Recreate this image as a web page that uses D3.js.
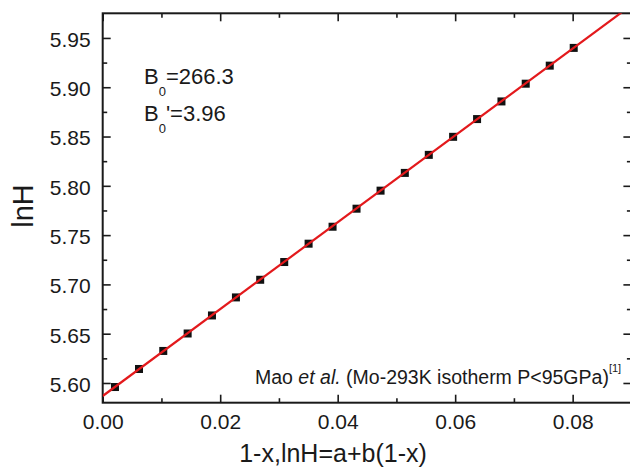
<!DOCTYPE html>
<html>
<head>
<meta charset="utf-8">
<script src="https://cdn.jsdelivr.net/npm/d3@7"></script>
<style>
  html, body { margin: 0; padding: 0; background: #fff; }
  svg { display: block; font-family: "Liberation Sans", Arial, sans-serif; }
</style>
</head>
<body>
<script>
// Mo isotherm: reduced strain (1-x) vs lnH, with linear fit lnH = a + b(1-x)
const strain = [0.00209, 0.00618, 0.01031, 0.01446, 0.01860, 0.02268, 0.02681, 0.03090, 0.03505, 0.03913,
                0.04321, 0.04730, 0.05143, 0.05551, 0.05965, 0.06373, 0.06788, 0.07201, 0.07610, 0.08018];
const lnH = [5.5959, 5.6142, 5.6325, 5.6502, 5.6685, 5.6868, 5.7047, 5.7227, 5.7413, 5.7585,
             5.7768, 5.7951, 5.8131, 5.8314, 5.8497, 5.8677, 5.8856, 5.9036, 5.9219, 5.9399];
const fitParams = [5.5868, 4.405];            // a, b
const xTicks = [0, 0.02, 0.04, 0.06, 0.08];
const xMinorTicks = [0.01, 0.03, 0.05, 0.07, 0.09];
const yTicks = [5.60, 5.65, 5.70, 5.75, 5.80, 5.85, 5.90, 5.95];
const yMinorTicks = [5.625, 5.675, 5.725, 5.775, 5.825, 5.875, 5.925];

const W = 630, H = 467;
const plot = { left: 102.7, right: 631.4, top: 13.3, bottom: 402.7 };

const svg = d3.select("body").append("svg").attr("width", W).attr("height", H);

const x = d3.scaleLinear().domain([0, 0.09]).range([plot.left, plot.right]);
const y = d3.scaleLinear().domain([5.58, 5.975]).range([plot.bottom, plot.top]);

const axisColor = "#1a1a1a";

function styleAxis(g) {
  g.select(".domain").remove();
  g.selectAll(".tick line").attr("stroke", axisColor).attr("stroke-width", 1.6);
}

// bottom axis (ticks point inward)
svg.append("g")
  .attr("transform", `translate(0,${plot.bottom})`)
  .call(d3.axisBottom(x).tickValues(xTicks).tickSize(-8).tickFormat(d3.format(".2f")))
  .call(styleAxis)
  .call(g => g.selectAll("text").attr("y", 26.3).attr("dy", null)
    .attr("font-size", 21).attr("fill", "#1a1a1a").attr("font-family", "Liberation Sans, Arial, sans-serif"));
svg.append("g")
  .attr("transform", `translate(0,${plot.bottom})`)
  .call(d3.axisBottom(x).tickValues(xMinorTicks).tickSize(-4.5).tickFormat(""))
  .call(styleAxis);

// top axis
svg.append("g")
  .attr("transform", `translate(0,${plot.top})`)
  .call(d3.axisTop(x).tickValues(xTicks).tickSize(-8).tickFormat(""))
  .call(styleAxis);
svg.append("g")
  .attr("transform", `translate(0,${plot.top})`)
  .call(d3.axisTop(x).tickValues(xMinorTicks).tickSize(-4.5).tickFormat(""))
  .call(styleAxis);

// left axis
svg.append("g")
  .attr("transform", `translate(${plot.left},0)`)
  .call(d3.axisLeft(y).tickValues(yTicks).tickSize(-8).tickFormat(d3.format(".2f")))
  .call(styleAxis)
  .call(g => g.selectAll("text").attr("x", -12).attr("dy", "0.4em")
    .attr("font-size", 21).attr("fill", "#1a1a1a").attr("font-family", "Liberation Sans, Arial, sans-serif"));
svg.append("g")
  .attr("transform", `translate(${plot.left},0)`)
  .call(d3.axisLeft(y).tickValues(yMinorTicks).tickSize(-4.5).tickFormat(""))
  .call(styleAxis);

// right axis
svg.append("g")
  .attr("transform", `translate(${plot.right},0)`)
  .call(d3.axisRight(y).tickValues(yTicks).tickSize(-8).tickFormat(""))
  .call(styleAxis);
svg.append("g")
  .attr("transform", `translate(${plot.right},0)`)
  .call(d3.axisRight(y).tickValues(yMinorTicks).tickSize(-4.5).tickFormat(""))
  .call(styleAxis);

// frame
svg.append("rect")
  .attr("x", plot.left).attr("y", plot.top)
  .attr("width", plot.right - plot.left).attr("height", plot.bottom - plot.top)
  .attr("fill", "none").attr("stroke", axisColor).attr("stroke-width", 2);

// data markers
const pts = strain.map((s, i) => ({ s, v: lnH[i] }));
const msize = 8;
svg.append("g").selectAll("rect").data(pts).join("rect")
  .attr("x", d => x(d.s) - msize / 2)
  .attr("y", d => y(d.v) - msize / 2)
  .attr("width", msize).attr("height", msize)
  .attr("fill", "#111");

// fit line, clipped to the plot frame
svg.append("clipPath").attr("id", "plotClip")
  .append("rect")
  .attr("x", plot.left).attr("y", plot.top)
  .attr("width", plot.right - plot.left).attr("height", plot.bottom - plot.top);

const [fa, fb] = fitParams;
const fitLine = x.domain().map(s => ({ s, v: fa + fb * s }));
svg.append("path")
  .datum(fitLine)
  .attr("clip-path", "url(#plotClip)")
  .attr("fill", "none")
  .attr("stroke", "#e3191c")
  .attr("stroke-width", 2.2)
  .attr("d", d3.line().x(d => x(d.s)).y(d => y(d.v)));

// axis titles
svg.append("text")
  .attr("x", 333).attr("y", 462)
  .attr("text-anchor", "middle")
  .attr("font-size", 25).attr("fill", "#1a1a1a")
  .text("1-x,lnH=a+b(1-x)");

svg.append("text")
  .attr("transform", "translate(33,206) rotate(-90)")
  .attr("text-anchor", "middle")
  .attr("font-size", 29).attr("fill", "#1a1a1a")
  .text("lnH");

// fitted parameters
const ann = svg.append("g").attr("fill", "#1a1a1a").attr("font-size", 22);
const t1 = ann.append("text").attr("x", 144).attr("y", 84);
t1.append("tspan").text("B");
t1.append("tspan").attr("font-size", 13).attr("dy", 12).text("0");
t1.append("tspan").attr("dy", -12).text("=266.3");

const t2 = ann.append("text").attr("x", 144).attr("y", 121);
t2.append("tspan").text("B");
t2.append("tspan").attr("font-size", 13).attr("dy", 12).text("0");
t2.append("tspan").attr("dy", -12).text("'=3.96");

// source note
const src = svg.append("text").attr("x", 255).attr("y", 384)
  .attr("font-size", 19.5).attr("fill", "#1a1a1a");
src.append("tspan").text("Mao ");
src.append("tspan").attr("font-style", "italic").text("et al.");
src.append("tspan").text(" (Mo-293K isotherm P<95GPa)");
src.append("tspan").attr("font-size", 11).attr("dy", -12).text("[1]");
</script>
</body>
</html>
